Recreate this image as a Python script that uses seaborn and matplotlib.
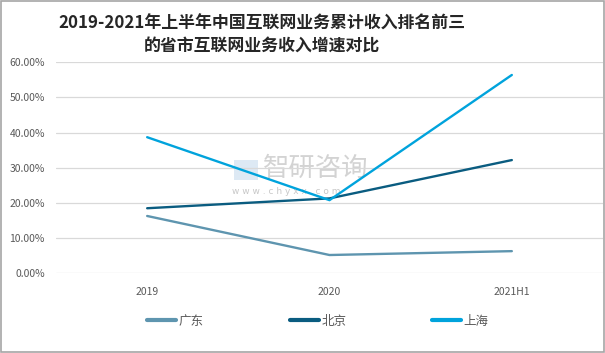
import matplotlib
matplotlib.use("Agg")
import matplotlib.pyplot as plt
import seaborn as sns
import pandas as pd
from matplotlib.ticker import FuncFormatter, MultipleLocator
from matplotlib.patches import Rectangle

categories = ["2019", "2020", "2021H1"]
guangdong = [16.3, 5.2, 6.3]
beijing = [18.5, 21.3, 32.2]
shanghai = [38.7, 20.8, 56.4]
series_names = ["广东", "北京", "上海"]
colors = ["#5E95AF", "#0A5C80", "#00A3DC"]

rows = []
for name, vals in zip(series_names, [guangdong, beijing, shanghai]):
    for c, v in zip(categories, vals):
        rows.append({"year": c, "value": v / 100.0, "city": name})
df = pd.DataFrame(rows)

sns.set_theme(style="white")
plt.rcParams["font.family"] = ["Noto Sans CJK SC", "DejaVu Sans"]

fig = plt.figure(figsize=(6.05, 3.53), dpi=100)
ax = fig.add_axes([56 / 605, 1 - 273.3 / 353, (603 - 56) / 605, (273.3 - 62.3) / 353])

sns.lineplot(data=df, x="year", y="value", hue="city", palette=colors,
             sort=False, linewidth=1.7, ax=ax, legend=True)

ax.set_ylim(0, 0.6)
ax.set_xlim(-0.5, 2.5)
ax.yaxis.set_major_locator(MultipleLocator(0.1))
ax.yaxis.set_major_formatter(FuncFormatter(lambda v, p: f"{v*100:.2f}%"))
ax.grid(axis="y", color="#d9d9d9", linewidth=0.9)
ax.set_axisbelow(True)
for s in ax.spines.values():
    s.set_visible(False)
ax.set_xlabel("")
ax.set_ylabel("")
ax.tick_params(axis="y", labelsize=7.5, labelcolor="#595959", length=0, pad=8)
ax.tick_params(axis="x", labelsize=7.5, labelcolor="#595959", length=0, pad=10)

# watermark
ax.text(0.378, 0.495, "智研咨询", transform=ax.transAxes, fontsize=19, color="#c8c8c8",
        alpha=0.8, ha="left", va="center", zorder=0)
ax.text(0.322, 0.41, "w w w . c h y x x . c o m", transform=ax.transAxes, fontsize=6.5,
        color="#c8c8c8", ha="left", va="top", zorder=0, family="DejaVu Sans")
ax.add_patch(Rectangle((0.325, 0.44), 0.045, 0.095, transform=ax.transAxes,
                       facecolor="#cfe0f0", edgecolor="none", alpha=0.7, zorder=0))

handles, labels = ax.get_legend_handles_labels()
ax.get_legend().remove()
leg = fig.legend(handles, labels, loc="center", bbox_to_anchor=(318 / 605, 1 - 321 / 353),
                 ncol=3, frameon=False, fontsize=9, handlelength=2.3, handletextpad=0.2,
                 columnspacing=6.9)
for t in leg.get_texts():
    t.set_color("#595959")
for l in leg.get_lines():
    l.set_linewidth(3)

fig.text(262 / 605, 1 - 24 / 353, "2019-2021年上半年中国互联网业务累计收入排名前三", ha="center",
         va="center", fontsize=12.2, fontweight="bold", color="#262626")
fig.text(262 / 605, 1 - 47 / 353, "的省市互联网业务收入增速对比", ha="center",
         va="center", fontsize=12.2, fontweight="bold", color="#262626")

fig.patches.append(Rectangle((0.001, 0.003), 0.997, 0.995, transform=fig.transFigure,
                             fill=False, edgecolor="#a6a6a6", linewidth=1.2))

fig.savefig("out.png", dpi=100)
